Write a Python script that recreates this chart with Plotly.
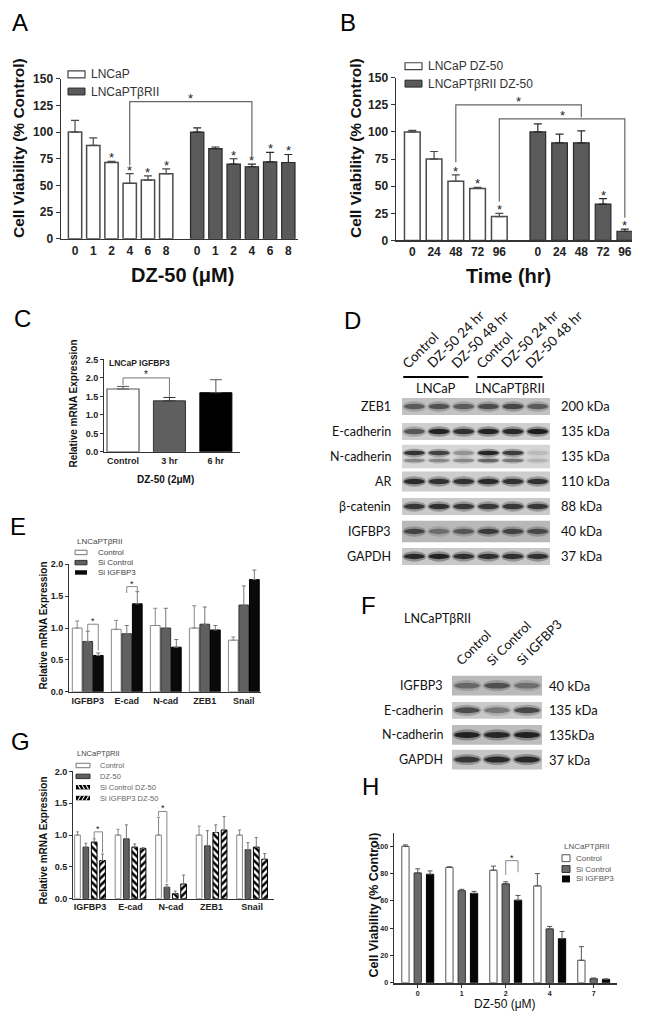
import plotly.graph_objects as go

W, H = 650, 1025
FONT = "Liberation Sans, Arial, sans-serif"
BFONT = "Lato, Liberation Sans, sans-serif"
AX = "#333333"

# ---------------- data ----------------
# Panel A
doses_A = ["0", "1", "2", "4", "6", "8"]
lncap_A = [100, 87.5, 71.5, 52, 55, 61]
lncap_A_sem = [11, 7, 1, 9, 4, 4.5]
tbr_A = [100, 84.5, 70, 67.5, 72, 71.5]
tbr_A_sem = [4, 1.5, 5, 2.5, 9, 7.5]
stars_A_lncap = [2, 3, 4, 5]
stars_A_tbr = [2, 3, 4, 5]

# Panel B
times_B = ["0", "24", "48", "72", "96"]
lncap_B = [100, 75, 54.5, 48, 22]
lncap_B_sem = [1.5, 7, 6, 1, 3]
tbr_B = [100, 90, 90, 33.5, 8.5]
tbr_B_sem = [7.5, 8, 11, 5, 2]
stars_B_lncap = [2, 3, 4]
stars_B_tbr = [3, 4]

# Panel C
cats_C = ["Control", "3 hr", "6 hr"]
vals_C = [1.70, 1.38, 1.60]
sem_C = [0.07, 0.09, 0.35]

# Panel E
genes = ["IGFBP3", "E-cad", "N-cad", "ZEB1", "Snail"]
ctrl_E = [1.00, 0.98, 1.04, 1.00, 0.81]
ctrl_E_sem = [0.11, 0.14, 0.27, 0.35, 0.05]
sic_E = [0.79, 0.91, 1.00, 1.06, 1.36]
sic_E_sem = [0.16, 0.13, 0.31, 0.27, 0.30]
sii_E = [0.57, 1.38, 0.70, 0.97, 1.76]
sii_E_sem = [0.04, 0.19, 0.12, 0.07, 0.15]

# Panel G
ctrl_G = [1.00, 1.00, 1.00, 1.00, 1.00]
ctrl_G_sem = [0.05, 0.09, 0.28, 0.14, 0.08]
dz_G = [0.81, 0.94, 0.18, 0.83, 0.77]
dz_G_sem = [0.06, 0.22, 0.04, 0.24, 0.11]
sicdz_G = [0.89, 0.81, 0.08, 1.04, 0.81]
sicdz_G_sem = [0.05, 0.05, 0.04, 0.12, 0.15]
siidz_G = [0.60, 0.79, 0.23, 1.08, 0.62]
siidz_G_sem = [0.10, 0.01, 0.14, 0.21, 0.09]

# Panel H
doses_H = ["0", "1", "2", "4", "7"]
ctrl_H = [100, 84.5, 82.5, 71, 16.5]
ctrl_H_sem = [1, 0.5, 3, 9, 10]
sic_H = [80.5, 67.5, 72.5, 39.5, 3]
sic_H_sem = [3, 1, 1.5, 1.8, 0.5]
sii_H = [79.5, 65.5, 60.5, 32.3, 2.5]
sii_H_sem = [2.5, 1.5, 3.5, 5.3, 0.4]

# Panel D (western blot, relative band intensity 0-1)
lanes_D = ["Control", "DZ-50 24 hr", "DZ-50 48 hr", "Control", "DZ-50 24 hr", "DZ-50 48 hr"]
groups_D = ["LNCaP", "LNCaPTβRII"]
proteins_D = ["ZEB1", "E-cadherin", "N-cadherin", "AR", "β-catenin", "IGFBP3", "GAPDH"]
kda_D = ["200 kDa", "135 kDa", "135 kDa", "110 kDa", "88 kDa", "40 kDa", "37 kDa"]
zeb1_D = [0.55, 0.6, 0.55, 0.65, 0.7, 0.55]
ecad_D = [0.6, 0.95, 0.85, 0.95, 0.9, 1.0]
ncad_D = [0.85, 0.75, 0.3, 0.95, 0.8, 0.12]
ncad_low_D = [0.35, 0.35, 0.35, 0.55, 0.45, 0.15]
ar_D = [0.9, 0.85, 0.85, 0.9, 0.85, 0.85]
bcat_D = [0.8, 0.85, 0.8, 0.8, 0.8, 0.8]
igfbp3_D = [0.7, 0.4, 0.55, 0.75, 0.7, 0.65]
gapdh_D = [0.9, 0.95, 0.85, 0.85, 0.85, 0.85]

# Panel F (western blot)
lanes_F = ["Control", "Si Control", "Si IGFBP3"]
proteins_F = ["IGFBP3", "E-cadherin", "N-cadherin", "GAPDH"]
kda_F = ["40 kDa", "135 kDa", "135kDa", "37 kDa"]
igfbp3_F = [0.45, 0.6, 0.4]
ecad_F = [0.65, 0.4, 0.7]
ncad_F = [0.95, 0.9, 0.95]
gapdh_F = [0.8, 0.9, 0.9]

# ---------------- helpers ----------------
fig = go.Figure()


def axn(k):
    return ("x", "y") if k == 1 else (f"x{k}", f"y{k}")


def dom_x(a, b):
    return [a / W, b / W]


def dom_y(top, bottom):
    return [1 - bottom / H, 1 - top / H]


def text_px(x, y, text, size, color="#000", xanchor="left", yanchor="middle",
            angle=0, bold=False, family=FONT):
    fig.add_annotation(x=x / W, y=1 - y / H, xref="paper", yref="paper", text=text,
                       showarrow=False, xanchor=xanchor, yanchor=yanchor, textangle=angle,
                       font=dict(size=size, color=color, family=family,
                                 weight="bold" if bold else "normal"))


def rect_px(x0, yc, x1, h, fill, line=None, lw=1):
    fig.add_shape(type="rect", xref="paper", yref="paper",
                  x0=x0 / W, x1=x1 / W, y0=1 - (yc + h / 2) / H, y1=1 - (yc - h / 2) / H,
                  fillcolor=fill, line=dict(color=line or fill, width=lw if line else 0))


def line_px(x0, y0, x1, y1, color, lw):
    fig.add_shape(type="line", xref="paper", yref="paper", x0=x0 / W, x1=x1 / W,
                  y0=1 - y0 / H, y1=1 - y1 / H, line=dict(color=color, width=lw))


def bars(k, xs, ys, sem, fill, line, width, lw=1.2, ecol=None, capw=3, eth=1.2, pattern=None):
    xa, ya = axn(k)
    marker = dict(color=fill, line=dict(color=line, width=lw))
    if pattern:
        marker["pattern"] = pattern
    fig.add_trace(go.Bar(
        x=xs, y=ys, width=[width] * len(ys), xaxis=xa, yaxis=ya, marker=marker,
        error_y=dict(type="data", array=sem, arrayminus=[0] * len(sem), symmetric=False,
                     color=ecol or line, thickness=eth, width=capw),
        showlegend=False, hoverinfo="skip"))


def star(k, x, y, size, shift):
    xa, ya = axn(k)
    fig.add_annotation(x=x, y=y, xref=xa, yref=ya, text="*", showarrow=False,
                       yanchor="bottom", yshift=shift,
                       font=dict(size=size, family=FONT, color="#222"))


def bracket(k, x0, x1, top, y0, y1, color, lw, size, shift):
    xa, ya = axn(k)
    fig.add_shape(type="path", xref=xa, yref=ya,
                  path=f"M{x0},{y0} L{x0},{top} L{x1},{top} L{x1},{y1}",
                  line=dict(color=color, width=lw))
    star(k, (x0 + x1) / 2, top, size, shift)


def style_axes(k, xdom, ydom, xrange, yrange, xtv, xtt, ytv, tfs, ytt=None,
               lw=1.2, ylen=4, xticks="", xlen=0, xlw=None):
    xa, ya = axn(k)
    xname = "xaxis" if k == 1 else f"xaxis{k}"
    yname = "yaxis" if k == 1 else f"yaxis{k}"
    tf = dict(family=FONT, size=tfs, color="#222", weight="bold")
    fig.update_layout(**{
        xname: dict(domain=xdom, range=xrange, anchor=ya, tickmode="array", tickvals=xtv,
                    ticktext=xtt, showline=True, linecolor=AX, linewidth=xlw or lw,
                    ticks=xticks, ticklen=xlen, tickcolor=AX, tickwidth=1, tickfont=tf,
                    showgrid=False, zeroline=False, fixedrange=True),
        yname: dict(domain=ydom, range=yrange, anchor=xa, tickmode="array", tickvals=ytv,
                    ticktext=ytt if ytt else [str(v) for v in ytv], showline=True,
                    linecolor=AX, linewidth=lw, ticks="outside", ticklen=ylen,
                    tickcolor=AX, tickwidth=1, tickfont=tf, showgrid=False,
                    zeroline=False, fixedrange=True),
    })


def hidden_axes(k, xdom, ydom, xrange, yrange):
    xa, ya = axn(k)
    fig.update_layout(**{
        f"xaxis{k}": dict(domain=xdom, range=xrange, anchor=ya, visible=False, fixedrange=True),
        f"yaxis{k}": dict(domain=ydom, range=yrange, anchor=xa, visible=False, fixedrange=True),
    })


def blot_row(k, row, intens, bg, half_h, dy=0.0, band_h=0.1, with_bg=True):
    xa, ya = axn(k)
    n = len(intens)
    if with_bg:
        fig.add_shape(type="rect", xref=xa, yref=ya, x0=-0.5, x1=n - 0.5,
                      y0=row - half_h, y1=row + half_h, fillcolor=bg, line_width=0)
    for i, a in enumerate(intens):
        c = row + dy
        fig.add_shape(type="circle", xref=xa, yref=ya, x0=i - 0.48, x1=i + 0.48,
                      y0=c - band_h * 1.9, y1=c + band_h * 1.9,
                      fillcolor=f"rgba(25,25,25,{a * 0.35:.2f})", line_width=0)
        fig.add_shape(type="circle", xref=xa, yref=ya, x0=i - 0.42, x1=i + 0.42,
                      y0=c - band_h, y1=c + band_h,
                      fillcolor=f"rgba(10,10,10,{a * 0.85:.2f})", line_width=0)


# ---------------- Panel A ----------------
posA1 = [float(i) for i in range(len(doses_A))]
posA2 = [i + len(doses_A) + 0.7 for i in range(len(doses_A))]
style_axes(1, dom_x(61, 298), dom_y(72.7, 235), [-0.77, 12.23], [0, 150],
           posA1 + posA2, doses_A + doses_A, list(range(0, 151, 25)), 12, lw=1.5)
bars(1, posA1, lncap_A, lncap_A_sem, "white", "#4a4a4a", 0.73, lw=1.5, capw=4)
bars(1, posA2, tbr_A, tbr_A_sem, "#5a5a5a", "#2a2a2a", 0.73, lw=1.2, capw=4)
for i in stars_A_lncap:
    star(1, posA1[i], lncap_A[i] + lncap_A_sem[i], 13, -6)
for i in stars_A_tbr:
    star(1, posA2[i], tbr_A[i] + tbr_A_sem[i], 13, -6)
bracket(1, posA1[3], posA2[3], 128.5, 69, 77, "#666", 1.2, 13, -6)
rect_px(68, 68.3, 85, 7, "white", "#444", 1.2)
rect_px(68, 85.7, 85, 7, "#5a5a5a", "#2a2a2a", 1)
text_px(89, 68.3, "LNCaP", 12, "#333")
text_px(89, 85.7, "LNCaPTβRII", 12, "#333")
text_px(18, 143, "Cell Viability (% Control)", 15.5, "#111", "center", "middle", -90, True)
text_px(182, 272, "DZ-50 (μM)", 20, "#111", "center", "middle", 0, True)
text_px(20, 16, "A", 24, "#000", "center")

# ---------------- Panel B ----------------
posB1 = [float(i) for i in range(len(times_B))]
posB2 = [i + len(times_B) + 0.77 for i in range(len(times_B))]
style_axes(2, dom_x(396, 632), dom_y(71.7, 236.7), [-0.75, 10.1], [0, 150],
           posB1 + posB2, times_B + times_B, list(range(0, 151, 25)), 12, lw=1.5)
bars(2, posB1, lncap_B, lncap_B_sem, "white", "#4a4a4a", 0.72, lw=1.5, capw=4)
bars(2, posB2, tbr_B, tbr_B_sem, "#5a5a5a", "#2a2a2a", 0.72, lw=1.2, capw=4)
for i in stars_B_lncap:
    star(2, posB1[i], lncap_B[i] + lncap_B_sem[i], 13, -6)
for i in stars_B_tbr:
    star(2, posB2[i], tbr_B[i] + tbr_B_sem[i], 13, -6)
bracket(2, posB1[2], posB2[2], 125, 72, 113.5, "#666", 1.2, 13, -6)
bracket(2, posB1[4], posB2[4], 112, 36, 21, "#666", 1.2, 13, -6)
rect_px(405, 60, 422, 7, "white", "#444", 1.2)
rect_px(405, 77.7, 422, 7, "#5a5a5a", "#2a2a2a", 1)
text_px(426, 60, "LNCaP DZ-50", 12, "#333")
text_px(426, 77.7, "LNCaPTβRII DZ-50", 12, "#333")
text_px(355, 143, "Cell Viability (% Control)", 15.5, "#111", "center", "middle", -90, True)
text_px(508, 273, "Time (hr)", 20, "#111", "center", "middle", 0, True)
text_px(348, 16, "B", 24, "#000", "center")

# ---------------- Panel C ----------------
posC = [float(i) for i in range(len(cats_C))]
style_axes(3, dom_x(104, 240), dom_y(357.3, 451), [-0.41, 2.52], [0, 2.5],
           posC, cats_C, [0, 0.5, 1.0, 1.5, 2.0, 2.5], 9,
           ytt=["0.0", "0.5", "1.0", "1.5", "2.0", "2.5"], lw=1, ylen=3)
bars(3, posC[:1], vals_C[:1], sem_C[:1], "white", "#555", 0.69, lw=1.2, capw=6, eth=1)
bars(3, posC[1:2], vals_C[1:2], sem_C[1:2], "#5f5f5f", "#333", 0.69, lw=1, capw=6, eth=1)
bars(3, posC[2:], vals_C[2:], sem_C[2:], "#000000", "#000", 0.69, lw=1, ecol="#555", capw=6, eth=1)
bracket(3, posC[0], posC[1], 2.0, 1.80, 1.49, "#777", 1, 10, -4)
text_px(107, 361, "LNCaP IGFBP3", 8.5, "#222", "left", "middle", 0, True)
text_px(74, 402, "Relative mRNA Expression", 10, "#111", "center", "middle", -90, True)
text_px(165, 479, "DZ-50 (2μM)", 10, "#111", "center", "middle", 0, True)
text_px(22, 316, "C", 24, "#000", "center")

# ---------------- Panel E ----------------
gE = [float(i) for i in range(len(genes))]
posE = [[g + (j - 1) * 0.27 for g in gE] for j in range(3)]
style_axes(4, dom_x(69, 261), dom_y(565, 694.3), [-0.48, 4.44], [0, 2.0],
           gE, genes, [0, 0.5, 1.0, 1.5, 2.0], 9,
           ytt=["0.0", "0.5", "1.0", "1.5", "2.0"], lw=1, ylen=3)
bars(4, posE[0], ctrl_E, ctrl_E_sem, "white", "#888", 0.25, lw=1, capw=2, eth=1)
bars(4, posE[1], sic_E, sic_E_sem, "#606060", "#333", 0.25, lw=1, ecol="#777", capw=2, eth=1)
bars(4, posE[2], sii_E, sii_E_sem, "#0a0a0a", "#000", 0.25, lw=1, ecol="#777", capw=2, eth=1)
bracket(4, posE[1][0], posE[2][0], 1.06, 0.95, 0.65, "#888", 1, 9, -4)
bracket(4, posE[1][1], posE[2][1], 1.65, 1.55, 1.56, "#888", 1, 9, -4)
text_px(75, 542, "LNCaPTβRII", 8, "#444")
rect_px(75, 553, 87, 4.5, "white", "#777", 1)
rect_px(75, 563.3, 87, 4.5, "#606060", "#333", 1)
rect_px(75, 573.3, 87, 4.5, "#0a0a0a")
text_px(96, 553, "Control", 8, "#444")
text_px(96, 563.3, "Si Control", 8, "#444")
text_px(96, 573.3, "Si IGFBP3", 8, "#444")
text_px(43, 627, "Relative mRNA Expression", 10, "#111", "center", "middle", -90, True)
text_px(18, 527, "E", 24, "#000", "center")

# ---------------- Panel G ----------------
gG = [float(i) for i in range(len(genes))]
posG = [[g + (j - 1.5) * 0.206 for g in gG] for j in range(4)]
style_axes(5, dom_x(73, 274), dom_y(775, 904), [-0.42, 4.54], [0, 2.0],
           gG, genes, [0, 0.5, 1.0, 1.5, 2.0], 9,
           ytt=["0.0", "0.5", "1.0", "1.5", "2.0"], lw=1, ylen=3)
bars(5, posG[0], ctrl_G, ctrl_G_sem, "white", "#888", 0.14, lw=1, capw=1.5, eth=1)
bars(5, posG[1], dz_G, dz_G_sem, "#606060", "#333", 0.14, lw=1, ecol="#777", capw=1.5, eth=1)
bars(5, posG[2], sicdz_G, sicdz_G_sem, "white", "#000", 0.14, lw=1, ecol="#777", capw=1.5, eth=1,
     pattern=dict(shape="\\", fgcolor="#000", bgcolor="#fff", size=5, solidity=0.5, fillmode="replace"))
bars(5, posG[3], siidz_G, siidz_G_sem, "white", "#000", 0.14, lw=1, ecol="#777", capw=1.5, eth=1,
     pattern=dict(shape="/", fgcolor="#000", bgcolor="#fff", size=5, solidity=0.5, fillmode="replace"))
bracket(5, posG[2][0], posG[3][0], 1.05, 0.95, 0.72, "#888", 1, 9, -4)
bracket(5, posG[0][2], posG[1][2], 1.37, 1.30, 0.25, "#888", 1, 9, -4)
text_px(75, 757, "LNCaPTβRII", 7.5, "#444")
rect_px(76, 769, 90, 4.5, "white", "#777", 1)
rect_px(76, 780, 90, 4.5, "#606060", "#333", 1)
rect_px(76, 791, 90, 4.5, "#000")
rect_px(76, 802, 90, 4.5, "#000")
for xs in [78, 82, 86]:
    line_px(xs, 789, xs + 2.5, 793, "white", 1.1)
    line_px(xs, 804, xs + 2.5, 800, "white", 1.1)
text_px(98, 769, "Control", 7.5, "#666")
text_px(98, 780, "DZ-50", 7.5, "#666")
text_px(98, 791, "Si Control DZ-50", 7.5, "#666")
text_px(98, 802, "Si IGFBP3 DZ-50", 7.5, "#666")
text_px(43, 845, "Relative mRNA Expression", 10, "#111", "center", "middle", -90, True)
text_px(20, 745, "G", 24, "#000", "center")

# ---------------- Panel H ----------------
gH = [float(i) for i in range(len(doses_H))]
posH = [[g + (j - 1) * 0.28 for g in gH] for j in range(3)]
style_axes(6, dom_x(394, 617), dom_y(837.1, 989.3), [-0.54, 4.53], [0, 110],
           gH, doses_H, list(range(0, 101, 20)), 7, lw=1.5, ylen=3,
           xticks="outside", xlen=3, xlw=2)
bars(6, posH[0], ctrl_H, ctrl_H_sem, "white", "#555", 0.166, lw=1, capw=2.5, eth=1)
bars(6, posH[1], sic_H, sic_H_sem, "#6a6a6a", "#333", 0.166, lw=1, ecol="#555", capw=2.5, eth=1)
bars(6, posH[2], sii_H, sii_H_sem, "#050505", "#000", 0.166, lw=1, ecol="#555", capw=2.5, eth=1)
bracket(6, posH[1][2], posH[2][2], 89.5, 79, 81, "#888", 1, 9, -4)
text_px(562, 851, "LNCaPTβRII", 8, "#555")
rect_px(562, 863, 570, 7, "white", "#555", 1)
rect_px(562, 874, 570, 7, "#6a6a6a", "#333", 1)
rect_px(562, 884, 570, 7, "#050505")
text_px(574, 863, "Control", 8, "#555")
text_px(574, 874, "Si Control", 8, "#555")
text_px(574, 884, "Si IGFBP3", 8, "#555")
text_px(374, 911, "Cell Viability (% Control)", 12.5, "#111", "center", "middle", -90, True)
text_px(505, 1011, "DZ-50 (μM)", 12, "#111", "center", "middle")
text_px(370, 790, "H", 24, "#000", "center")

# ---------------- Panel D (blot) ----------------
rowsD = [float(i) for i in range(len(proteins_D))]
hidden_axes(7, dom_x(402, 550), dom_y(369.5, 569.7), [-0.5, 5.5], [6.5, -1.4])
intens_D = [zeb1_D, ecad_D, ncad_D, ar_D, bcat_D, igfbp3_D, gapdh_D]
bg_D = ["#c2c2c2", "#cfcfcf", "#d6d6d6", "#cdcdcd", "#cacaca", "#b8b8b8", "#c8c8c8"]
halfh_D = [0.34, 0.34, 0.47, 0.4, 0.34, 0.43, 0.34]
for r, (ints, bg, hh) in enumerate(zip(intens_D, bg_D, halfh_D)):
    if proteins_D[r] == "N-cadherin":
        blot_row(7, rowsD[r], ints, bg, hh, dy=-0.14, band_h=0.09)
        blot_row(7, rowsD[r], ncad_low_D, bg, hh, dy=0.16, band_h=0.07, with_bg=False)
    else:
        blot_row(7, rowsD[r], ints, bg, hh, band_h=0.11)
for r, (p, kd) in enumerate(zip(proteins_D, kda_D)):
    fig.add_annotation(x=-0.5, y=rowsD[r], xref="x7", yref="y7", text=p, showarrow=False,
                       xanchor="right", yanchor="middle", xshift=-9,
                       font=dict(size=12.5, family=BFONT, color="#111"))
    fig.add_annotation(x=5.5, y=rowsD[r], xref="x7", yref="y7", text=kd, showarrow=False,
                       xanchor="left", yanchor="middle", xshift=9,
                       font=dict(size=13, family=BFONT, color="#111"))
for i, lab in enumerate(lanes_D):
    fig.add_annotation(x=i, y=-1.3, xref="x7", yref="y7", text=lab, showarrow=False,
                       xanchor="left", yanchor="bottom", xshift=-18, textangle=-45,
                       font=dict(size=13.5, family=BFONT, color="#111"))
for gi, g in enumerate(groups_D):
    lo, hi = gi * 3, gi * 3 + 2
    fig.add_shape(type="line", xref="x7", yref="y7", x0=lo - 0.45, x1=hi + 0.2,
                  y0=-1.18, y1=-1.18, line=dict(color="#000", width=2))
    fig.add_annotation(x=(lo + hi) / 2, y=-0.72, xref="x7", yref="y7", text=g,
                       showarrow=False, xanchor="center", yanchor="middle", xshift=-3,
                       font=dict(size=13, family=BFONT, color="#111"))
text_px(352, 318, "D", 24, "#000", "center")

# ---------------- Panel F (blot) ----------------
rowsF = [float(i) for i in range(len(proteins_F))]
hidden_axes(8, dom_x(452, 542), dom_y(670.5, 775.5), [-0.5, 2.5], [3.5, -0.7])
intens_F = [igfbp3_F, ecad_F, ncad_F, gapdh_F]
bg_F = ["#bababa", "#c9c9c9", "#bdbdbd", "#c6c6c6"]
halfh_F = [0.4, 0.34, 0.4, 0.4]
for r, (ints, bg, hh) in enumerate(zip(intens_F, bg_F, halfh_F)):
    blot_row(8, rowsF[r], ints, bg, hh, band_h=0.12)
for r, (p, kd) in enumerate(zip(proteins_F, kda_F)):
    fig.add_annotation(x=-0.5, y=rowsF[r], xref="x8", yref="y8", text=p, showarrow=False,
                       xanchor="right", yanchor="middle", xshift=-7,
                       font=dict(size=12.5, family=BFONT, color="#111"))
    fig.add_annotation(x=2.5, y=rowsF[r], xref="x8", yref="y8", text=kd, showarrow=False,
                       xanchor="left", yanchor="middle", xshift=5,
                       font=dict(size=13, family=BFONT, color="#111"))
for i, lab in enumerate(lanes_F):
    fig.add_annotation(x=i, y=-0.6, xref="x8", yref="y8", text=lab, showarrow=False,
                       xanchor="left", yanchor="bottom", xshift=-17, textangle=-45,
                       font=dict(size=13, family=BFONT, color="#111"))
text_px(402, 620, "LNCaPTβRII", 12.5, "#111", family=BFONT)
text_px(368, 607, "F", 24, "#000", "center")

fig.update_layout(width=W, height=H, margin=dict(l=0, r=0, t=0, b=0),
                  paper_bgcolor="white", plot_bgcolor="white", showlegend=False,
                  barmode="overlay")
fig.write_html("out.html", config={"displayModeBar": False, "staticPlot": True},
               post_script="document.body.style.margin='0';document.body.style.overflow='hidden';")
